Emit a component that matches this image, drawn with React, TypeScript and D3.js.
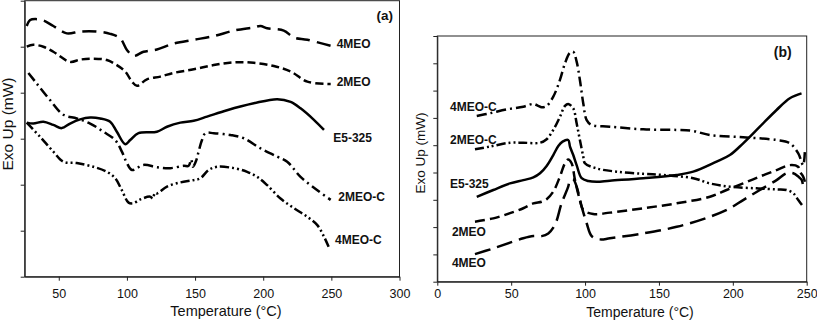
import React, { useEffect, useRef } from 'react';
import * as d3 from 'd3';

// Panel (a) curves: [temperature °C, exo signal (arb. units)]
const a4MEO = [[26.5,5.45],[29,5.58],[33,5.60],[38.7,5.57],[46,5.45],[55.9,5.29],[65.7,5.33],[77.9,5.33],[87.7,5.28],[95.1,5.18],[100,4.93],[104.9,4.80],[112.2,4.89],[122,4.94],[134.3,5.07],[149,5.15],[163.7,5.23],[178.4,5.35],[193.1,5.42],[198,5.45],[202.9,5.40],[215.1,5.35],[222.5,5.20],[232.4,5.15],[249.5,5.02]];
const a2MEO = [[26.5,5.0],[31.3,5.04],[38.7,5.0],[46,4.89],[58.3,4.67],[65.7,4.72],[75.4,4.74],[85.3,4.71],[92.6,4.60],[98.8,4.46],[103.7,4.24],[107.4,4.15],[114.7,4.29],[124.5,4.35],[134.3,4.43],[149,4.51],[163.7,4.60],[178.4,4.66],[193.1,4.65],[207.8,4.58],[220.1,4.46],[232.4,4.24],[249.5,4.19]];
const aE5325 = [[26.5,3.35],[31.3,3.33],[38.7,3.37],[46,3.30],[52.2,3.23],[58.3,3.33],[65.7,3.42],[73,3.46],[80.4,3.44],[87.7,3.37],[92.6,3.15],[98.8,2.88],[102.4,2.97],[108.5,3.12],[122,3.15],[129.4,3.26],[139.2,3.35],[149,3.39],[158.8,3.48],[173.5,3.62],[193.1,3.77],[210.3,3.86],[220.1,3.80],[227.4,3.66],[237.2,3.41],[244.6,3.19]];
const a2MEOC = [[27.7,4.43],[33.8,4.20],[43.6,3.84],[53.4,3.52],[63.2,3.44],[73,3.33],[82.8,3.15],[91.4,2.97],[96.3,2.72],[100,2.47],[103.7,2.32],[112.2,2.43],[122,2.38],[131.8,2.36],[141.6,2.41],[145.3,2.41],[147.1,2.55],[148.5,2.39],[151,2.54],[152.6,2.72],[155.1,2.97],[157.6,3.12],[163.7,3.12],[176,3.08],[185.7,3.01],[198,2.79],[210.3,2.61],[217.6,2.50],[227.4,2.17],[239.7,1.88],[249.5,1.67]];
const a4MEOC = [[26.5,3.35],[36.3,3.04],[46,2.72],[53.4,2.50],[63.2,2.47],[75.4,2.39],[85.3,2.28],[91.4,2.14],[96.3,1.88],[101.2,1.61],[104.9,1.60],[109.8,1.68],[117.1,1.74],[119,1.70],[120.5,1.82],[122,1.81],[129.4,1.96],[139.2,2.05],[149,2.10],[153.9,2.14],[160,2.32],[166.2,2.39],[178.4,2.36],[188.2,2.28],[195.6,2.17],[202.9,1.99],[212.7,1.70],[222.5,1.49],[232.4,1.30],[239.7,1.12],[244.6,0.87],[248,0.65]];

// Panel (b) curves
const b4MEOC = [[26.7,6.07],[35.6,6.17],[47,6.31],[58.2,6.41],[65,6.51],[68.3,6.44],[70.6,6.39],[74,6.44],[78.5,6.78],[83,7.39],[86.4,8.0],[89.8,8.39],[92,8.42],[94.3,8.06],[96.5,7.39],[98.8,6.53],[101.1,5.92],[104.5,5.74],[116.8,5.68],[139.4,5.58],[162,5.56],[173.2,5.52],[184.5,5.37],[207,5.29],[229.6,5.19],[238.6,5.07],[244.3,4.70],[247.6,4.27],[248.8,4.82]];
const b2MEOC = [[25.5,4.85],[35.6,4.95],[49.2,5.09],[58.2,5.09],[69.5,5.09],[74,5.22],[78.5,5.56],[83,6.04],[86.4,6.44],[88.6,6.51],[92,6.35],[94.3,5.80],[96.5,5.19],[98.8,4.58],[99.9,4.34],[107.8,4.15],[121.4,4.03],[139.4,3.95],[152.9,3.91],[173.2,3.79],[184.5,3.60],[198,3.48],[216.1,3.42],[229.6,3.38],[236.4,3.36],[240.9,3.24],[244.3,2.99],[247.6,2.75]];
const bE5325 = [[26.7,3.11],[37.9,3.36],[49.2,3.60],[58.2,3.72],[65,3.82],[69.5,3.97],[74,4.24],[78.5,4.64],[81.9,4.97],[84.8,5.13],[88.6,5.19],[89.8,4.95],[92,4.64],[94.3,4.27],[97.7,3.79],[102.2,3.69],[107.8,3.66],[116.8,3.70],[139.4,3.79],[162,3.91],[173.2,4.03],[189,4.40],[198,4.64],[207,5.07],[218.3,5.68],[229.6,6.29],[238.6,6.72],[246.5,6.90]];
const b2MEO = [[25.5,2.20],[37.9,2.32],[49.2,2.51],[58.2,2.69],[65,2.87],[70.6,2.93],[74,3.02],[78.5,3.30],[83,3.85],[86.4,4.34],[88.6,4.48],[90.9,4.34],[93.2,3.72],[96.5,2.99],[98.8,2.63],[105.5,2.48],[116.8,2.53],[139.4,2.69],[162,2.87],[184.5,3.11],[195.8,3.36],[207,3.60],[218.3,3.85],[229.6,4.09],[238.6,4.27],[244.2,4.21],[245.4,4.03],[247.6,3.85],[248.8,3.66]];
const b4MEO = [[25.5,1.01],[37.9,1.22],[49.2,1.43],[58.2,1.59],[65,1.67],[70.6,1.67],[75.1,1.77],[79.6,2.08],[84.1,2.87],[88.6,3.48],[89.8,3.72],[92,3.75],[94.3,3.48],[97.7,2.75],[101.1,2.14],[104.5,1.67],[110.1,1.55],[116.8,1.59],[139.4,1.77],[162,2.01],[184.5,2.38],[198,2.69],[207,2.99],[218.3,3.36],[229.6,3.72],[236.4,3.97],[240.9,3.97],[244.3,3.85],[246.6,3.73],[247.6,3.48]];

// tick values
const xTicksA = [50, 100, 150, 200, 250, 300];
const yTicksA = [0, 1, 2, 3, 4, 5, 6];
const xTicksB = [0, 50, 100, 150, 200, 250];
const yTicksB = [0, 1, 2, 3, 4, 5, 6, 7, 8, 9];

// series names + where their labels sit (data units)
const namesA = ['4MEO', '2MEO', 'E5-325', '2MEO-C', '4MEO-C'];
const labelPosA = [[253.9, 5.07], [253.9, 4.24], [251.4, 3.03], [255.1, 1.73], [252.7, 0.80]];
const namesB = ['4MEO-C', '2MEO-C', 'E5-325', '2MEO', '4MEO'];
const labelPosB = [[8.6, 6.41], [8.6, 5.19], [8.6, 3.60], [9.9, 1.83], [9.9, 0.70]];

const FONT = '"Liberation Sans", Arial, Helvetica, sans-serif';

const App = () => {
  const svgRef = useRef(null);

  useEffect(() => {
    const svg = d3.select(svgRef.current);
    svg.selectAll('*').remove();

    const panels = [
      {
        x: d3.scaleLinear().domain([25, 300]).range([24.7, 399.5]),
        y: d3.scaleLinear().domain([0, 6]).range([276.7, 0.7]),
        xTicks: xTicksA, yTicks: yTicksA, pad: 8,
        series: [
          { data: a4MEO, dash: '14,7' },
          { data: a2MEO, dash: '8,4' },
          { data: aE5325, dash: null },
          { data: a2MEOC, dash: '10,4,2,4' },
          { data: a4MEOC, dash: '9,3,2,3,2,3' },
        ],
        names: namesA, labelPos: labelPosA,
        tag: '(a)', tagPos: [295.2, 5.69], tagSize: 13.5,
        yTitle: { x: 7, y: 124, size: 15.5 },
        xTitle: { x: 226, y: 316, size: 14.5 },
      },
      {
        x: d3.scaleLinear().domain([0, 250]).range([437.3, 806.7]),
        y: d3.scaleLinear().domain([0, 9]).range([281.7, 36]),
        xTicks: xTicksB, yTicks: yTicksB, pad: 3,
        series: [
          { data: b4MEOC, dash: '10,4,2,4' },
          { data: b2MEOC, dash: '9,3,2,3,2,3' },
          { data: bE5325, dash: null },
          { data: b2MEO, dash: '10,5' },
          { data: b4MEO, dash: '16,7' },
        ],
        names: namesB, labelPos: labelPosB,
        tag: '(b)', tagPos: [239.8, 8.42], tagSize: 14,
        yTitle: { x: 420, y: 153, size: 13.5 },
        xTitle: { x: 640, y: 317, size: 14 },
      },
    ];

    panels.forEach(p => {
      const [x0, x1] = p.x.range();
      const [y0, y1] = p.y.range();
      const g = svg.append('g');

      // frame
      g.append('rect')
        .attr('x', x0).attr('y', y1)
        .attr('width', x1 - x0).attr('height', y0 - y1)
        .attr('fill', 'none').attr('stroke', '#222').attr('stroke-width', 1);

      // axes
      const xAxis = g.append('g')
        .attr('transform', `translate(0,${y0})`)
        .call(d3.axisBottom(p.x).tickValues(p.xTicks).tickSize(4).tickSizeOuter(0).tickPadding(p.pad));
      const yAxis = g.append('g')
        .attr('transform', `translate(${x0},0)`)
        .call(d3.axisLeft(p.y).tickValues(p.yTicks).tickSize(4).tickSizeOuter(0).tickFormat(() => ''));

      [xAxis, yAxis].forEach(ax => {
        ax.select('.domain').attr('stroke', '#222');
        ax.selectAll('.tick line').attr('stroke', '#222');
        ax.selectAll('text')
          .attr('fill', '#111')
          .style('font-family', FONT)
          .style('font-size', '12.5px');
      });

      // curves
      const line = d3.line()
        .x(d => p.x(d[0]))
        .y(d => p.y(d[1]))
        .curve(d3.curveCatmullRom.alpha(0.5));

      p.series.forEach(s => {
        g.append('path')
          .datum(s.data)
          .attr('fill', 'none')
          .attr('stroke', '#000')
          .attr('stroke-width', 2.5)
          .attr('stroke-dasharray', s.dash)
          .attr('d', line);
      });

      // series labels
      p.names.forEach((name, i) => {
        const [lx, ly] = p.labelPos[i];
        g.append('text')
          .attr('x', p.x(lx))
          .attr('y', p.y(ly) + 4.3)
          .attr('font-family', FONT)
          .attr('font-size', 12)
          .attr('font-weight', 'bold')
          .attr('fill', '#111')
          .text(name);
      });

      // panel tag
      g.append('text')
        .attr('x', p.x(p.tagPos[0]))
        .attr('y', p.y(p.tagPos[1]) + p.tagSize * 0.36)
        .attr('text-anchor', 'end')
        .attr('font-family', FONT)
        .attr('font-size', p.tagSize)
        .attr('font-weight', 'bold')
        .attr('fill', '#111')
        .text(p.tag);

      // axis titles
      g.append('text')
        .attr('x', p.xTitle.x)
        .attr('y', p.xTitle.y)
        .attr('text-anchor', 'middle')
        .attr('font-family', FONT)
        .attr('font-size', p.xTitle.size)
        .attr('fill', '#111')
        .text('Temperature (°C)');

      g.append('text')
        .attr('transform', `translate(${p.yTitle.x},${p.yTitle.y}) rotate(-90)`)
        .attr('text-anchor', 'middle')
        .attr('dominant-baseline', 'central')
        .attr('font-family', FONT)
        .attr('font-size', p.yTitle.size)
        .attr('fill', '#111')
        .text('Exo Up (mW)');
    });
  }, []);

  return (
    <div style={{ position: 'absolute', left: 0, top: 0, background: '#fff' }}>
      <svg ref={svgRef} width={817} height={321} style={{ display: 'block' }}></svg>
    </div>
  );
};

export default App;
